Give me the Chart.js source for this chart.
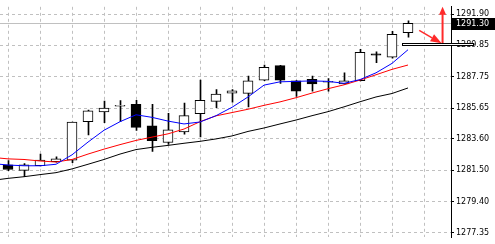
<!DOCTYPE html>
<html>
<head>
<meta charset="utf-8">
<script src="https://cdn.jsdelivr.net/npm/chart.js@4/dist/chart.umd.min.js"></script>
<style>
html,body{margin:0;padding:0;background:#fff}
#wrap{position:relative;width:495px;height:244px}
</style>
</head>
<body>
<div id="wrap"><canvas id="c"></canvas></div>
<script>
// bars (index 0 = leftmost visible candle)
const bars=[0,1,2,3,4,5,6,7,8,9,10,11,12,13,14,15,16,17,18,19,20,21,22,23,24,25];
const opens =[1281.87,1281.49,1281.80,1282.07,1282.18,1284.74,1285.39,1285.77,1285.90,1284.47,1283.35,1284.05,1285.27,1286.09,1286.65,1286.63,1287.51,1288.48,1287.47,1287.57,1287.37,1287.26,1287.47,1289.27,1289.05,1290.68];
const highs =[1282.14,1281.95,1282.58,1282.39,1284.72,1285.52,1286.11,1286.15,1286.17,1285.90,1285.29,1285.98,1287.51,1286.88,1286.88,1287.79,1288.52,1288.50,1287.49,1287.79,1287.62,1288.00,1289.57,1289.40,1290.77,1291.46];
const lows  =[1281.48,1281.07,1281.79,1282.04,1282.01,1283.86,1284.68,1284.74,1284.15,1282.75,1283.23,1283.90,1283.73,1285.68,1286.04,1285.73,1287.47,1287.30,1286.42,1286.78,1286.78,1287.24,1287.46,1288.67,1288.98,1290.37];
const closes=[1281.55,1281.87,1282.18,1282.26,1284.72,1285.46,1285.65,1285.79,1284.36,1283.48,1284.20,1285.14,1286.17,1286.59,1286.80,1287.47,1288.37,1287.51,1286.78,1287.26,1287.37,1287.47,1289.36,1289.17,1290.56,1291.30];

// moving averages, start one bar left of the first candle
const maIdx=[-1,0,1,2,3,4,5,6,7,8,9,10,11,12,13,14,15,16,17,18,19,20,21,22,23,24,25];
const maFast=[1281.95,1281.85,1281.80,1281.80,1281.90,1282.53,1283.38,1284.17,1284.74,1285.20,1285.03,1284.78,1284.59,1284.72,1285.14,1285.70,1286.39,1287.18,1287.40,1287.43,1287.46,1287.43,1287.30,1287.55,1288.00,1288.63,1289.54];
const maMid =[1282.36,1282.26,1282.22,1282.12,1282.05,1282.22,1282.58,1282.91,1283.21,1283.49,1283.71,1283.93,1284.25,1284.74,1285.13,1285.35,1285.57,1285.83,1286.06,1286.34,1286.65,1286.94,1287.20,1287.52,1287.87,1288.23,1288.52];
const maSlow=[1280.82,1280.96,1281.07,1281.21,1281.34,1281.59,1281.90,1282.22,1282.58,1282.88,1283.03,1283.16,1283.30,1283.43,1283.59,1283.79,1284.09,1284.32,1284.59,1284.85,1285.14,1285.41,1285.73,1286.07,1286.39,1286.62,1286.99];

const yTicks=[1277.35,1279.40,1281.50,1283.60,1285.65,1287.75,1289.85,1291.90];
const xGrid=[0,2,4,6,8,10,12,14,16,18,20,22,24,26];
const bidPrice=1291.30;
const level={from:24.6,to:29.06,top:1289.98,bottom:1289.85};
const upArrow={x:27.16,from:1289.99,to:1292.40};
const downArrow={x0:25.7,p0:1290.83,x1:27.1,p1:1289.97};

const bodies=bars.map(i=>({x:i,y:[opens[i],closes[i]]}));
const wicks=bars.map(i=>({x:i,y:[lows[i],highs[i]]}));
const line=v=>maIdx.map((x,k)=>({x,y:v[k]}));

const FONT='"DejaVu Sans", Tahoma, sans-serif';

const extras={
  id:'extras',
  beforeDatasetsDraw(c){
    const {ctx,chartArea:a,scales:{y}}=c;
    const by=Math.round(y.getPixelForValue(bidPrice))+0.5;
    ctx.save();ctx.strokeStyle='#c0c0c0';ctx.lineWidth=1;
    ctx.beginPath();ctx.moveTo(a.left,by);ctx.lineTo(a.right,by);ctx.stroke();ctx.restore();
  },
  afterDraw(c){
    const {ctx,chartArea:a,scales:{x,y}}=c;
    ctx.save();
    // horizontal level object
    const lx0=Math.round(x.getPixelForValue(level.from))+0.5,lx1=Math.round(x.getPixelForValue(level.to))+0.5;
    const ly0=Math.round(y.getPixelForValue(level.top))+0.5,ly1=Math.round(y.getPixelForValue(level.bottom))+0.5;
    ctx.fillStyle='#fff';ctx.fillRect(lx0,ly0,lx1-lx0,ly1-ly0);
    ctx.strokeStyle='#000';ctx.lineWidth=1;ctx.strokeRect(lx0,ly0,lx1-lx0,ly1-ly0);
    // current price box
    const by=Math.round(y.getPixelForValue(bidPrice));
    ctx.fillStyle='#000';ctx.fillRect(a.right+1,by-5,c.width-a.right-1,12);
    ctx.fillStyle='#fff';ctx.font='8px '+FONT;ctx.textBaseline='middle';
    ctx.fillText(bidPrice.toFixed(2),a.right+5,by+1);
    // red arrows
    ctx.fillStyle=ctx.strokeStyle='#ff2a2a';
    const ux=x.getPixelForValue(upArrow.x),uy0=y.getPixelForValue(upArrow.from),uy1=y.getPixelForValue(upArrow.to);
    ctx.lineWidth=2;ctx.beginPath();ctx.moveTo(ux,uy0);ctx.lineTo(ux,uy1+7);ctx.stroke();
    ctx.beginPath();ctx.moveTo(ux,uy1);ctx.lineTo(ux-3.5,uy1+8);ctx.lineTo(ux+3.5,uy1+8);ctx.closePath();ctx.fill();
    const dx0=x.getPixelForValue(downArrow.x0),dy0=y.getPixelForValue(downArrow.p0);
    const dx1=x.getPixelForValue(downArrow.x1),dy1=y.getPixelForValue(downArrow.p1);
    const ang=Math.atan2(dy1-dy0,dx1-dx0),hl=11,hw=4;
    const bx=dx1-hl*Math.cos(ang),byy=dy1-hl*Math.sin(ang);
    ctx.lineWidth=1.5;ctx.beginPath();ctx.moveTo(dx0,dy0);ctx.lineTo(bx,byy);ctx.stroke();
    ctx.beginPath();ctx.moveTo(dx1,dy1);
    ctx.lineTo(bx+hw*Math.sin(ang),byy-hw*Math.cos(ang));
    ctx.lineTo(bx-hw*Math.sin(ang),byy+hw*Math.cos(ang));
    ctx.closePath();ctx.fill();
    ctx.restore();
  }
};

new Chart(document.getElementById('c'),{
  type:'bar',
  data:{datasets:[
    {type:'bar',data:wicks,xAxisID:'xw',barThickness:1,backgroundColor:'#000',borderWidth:0,grouped:false,order:5},
    {type:'bar',data:bodies,xAxisID:'x',barThickness:10,grouped:false,order:4,
      backgroundColor:bodies.map(b=>b.y[1]>=b.y[0]?'#fff':'#000'),
      borderColor:'#000',borderWidth:1,borderSkipped:false,minBarLength:1},
    {type:'line',data:line(maSlow),xAxisID:'x',borderColor:'#000',borderWidth:1,pointRadius:0,tension:0,order:3},
    {type:'line',data:line(maMid),xAxisID:'x',borderColor:'#ff0000',borderWidth:1,pointRadius:0,tension:0,order:2},
    {type:'line',data:line(maFast),xAxisID:'x',borderColor:'#0000ff',borderWidth:1,pointRadius:0,tension:0,order:1},
  ]},
  options:{
    responsive:true,maintainAspectRatio:false,animation:false,
    layout:{padding:0},
    plugins:{legend:{display:false},tooltip:{enabled:false}},
    scales:{
      x:{type:'linear',min:-0.5,max:27.6875,offset:false,
        ticks:{display:false},
        grid:{color:'#c0c0c0',drawTicks:false,offset:false},
        border:{display:false,dash:[3,3]},
        afterBuildTicks:s=>{s.ticks=xGrid.map(v=>({value:v}));},
        afterFit:s=>{s.height=0;}},
      xw:{type:'linear',display:false,offset:false,grid:{offset:false},min:-0.5-1/32,max:27.6875-1/32},
      y:{type:'linear',position:'right',min:1277.035,max:1292.404,
        afterBuildTicks:s=>{s.ticks=yTicks.map(v=>({value:v}));},
        afterFit:s=>{s.width=44;},
        ticks:{color:'#000',padding:2,autoSkip:false,font:{family:FONT,size:8},callback:v=>v.toFixed(2)},
        grid:{color:'#c0c0c0',tickColor:'#000',tickLength:3,tickBorderDash:[]},
        border:{display:true,color:'#000',width:1,dash:[3,3]}}
    }
  },
  plugins:[extras]
});
</script>
</body>
</html>
